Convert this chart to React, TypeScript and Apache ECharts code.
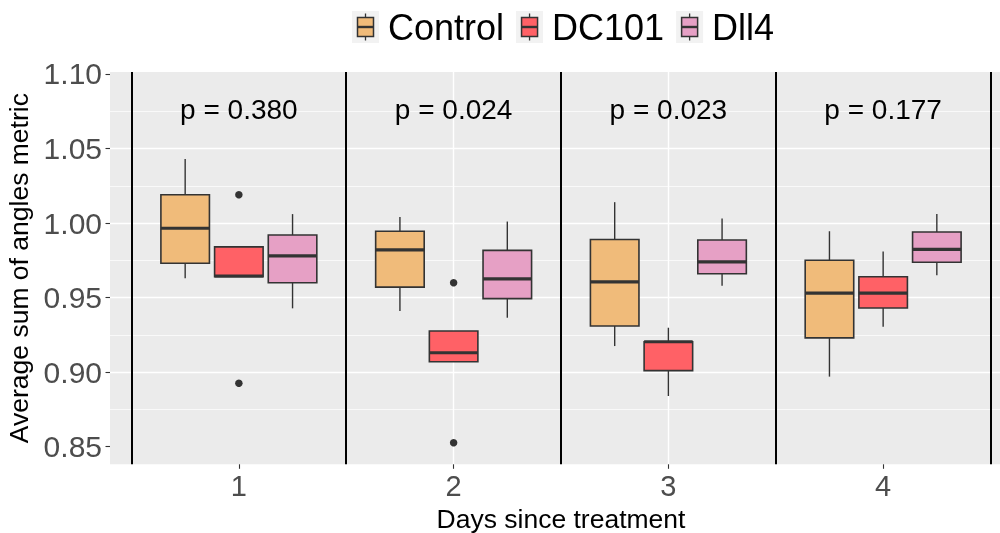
import React, { useEffect, useRef } from "react";
import * as echarts from "echarts";

// ---------- data ----------
const DAYS = [1, 2, 3, 4];
const GROUPS = ["Control", "DC101", "Dll4"];
const COLORS = ["#F0BB7A", "#FF6166", "#E6A0C5"];
// [lower whisker, Q1, median, Q3, upper whisker] per day
const CONTROL = [
  [0.963, 0.973, 0.9965, 1.019, 1.043],
  [0.941, 0.957, 0.982, 0.9945, 1.004],
  [0.9175, 0.931, 0.9605, 0.989, 1.014],
  [0.897, 0.923, 0.953, 0.975, 0.9945],
];
const DC101 = [
  [0.964, 0.964, 0.9645, 0.984, 0.984],
  [0.907, 0.907, 0.913, 0.9276, 0.9276],
  [0.884, 0.901, 0.9204, 0.9204, 0.9298],
  [0.9305, 0.943, 0.953, 0.964, 0.981],
];
const DLL4 = [
  [0.9428, 0.96, 0.978, 0.992, 1.006],
  [0.9365, 0.9493, 0.9625, 0.9817, 1.001],
  [0.958, 0.966, 0.974, 0.9886, 1.003],
  [0.965, 0.9737, 0.9824, 0.994, 1.006],
];
const BOX_STATS = [CONTROL, DC101, DLL4];
// outliers: [day, value]
const DC101_OUTLIERS = [
  [1, 1.019],
  [1, 0.8925],
  [2, 0.96],
  [2, 0.8527],
];
const P_VALUES = ["p = 0.380", "p = 0.024", "p = 0.023", "p = 0.177"];
const P_LABEL_Y = 1.076;
const SEPARATORS = [0.5, 1.5, 2.5, 3.5, 4.5];
const Y_TICKS = [0.85, 0.9, 0.95, 1.0, 1.05, 1.1];
const X_MIN = 0.4;
const X_MAX = 4.6;
const Y_MIN = 0.8382;
const Y_MAX = 1.1013;

// ---------- layout / style ----------
const DODGE = [-0.25, 0, 0.25];
const BOX_WIDTH = 0.226;
const FONT = "'Liberation Sans', Arial, Helvetica, sans-serif";
const INK = "#333333";

function legendIcon(color: string) {
  const svg =
    '<svg xmlns="http://www.w3.org/2000/svg" width="31" height="32">' +
    '<rect x="0" y="0" width="27" height="32" fill="#F2F2F2"/>' +
    '<line x1="13.5" y1="2.5" x2="13.5" y2="29.5" stroke="#333333" stroke-width="1.3"/>' +
    '<rect x="5.5" y="6.5" width="16" height="19" fill="' +
    color +
    '" stroke="#333333" stroke-width="1.5"/>' +
    '<line x1="5.5" y1="16" x2="21.5" y2="16" stroke="#333333" stroke-width="2.4"/>' +
    "</svg>";
  return "image://data:image/svg+xml;charset=utf-8," + encodeURIComponent(svg);
}

export default function App() {
  const ref = useRef<HTMLDivElement>(null);

  useEffect(() => {
    if (!ref.current) return;
    document.body.style.margin = "0";
    const chart = echarts.init(ref.current, null, { renderer: "svg" });

    const boxSeries = GROUPS.map((name, g) => ({
      name,
      type: "custom",
      z: 3,
      encode: { x: 0, y: [1, 2, 3, 4, 5] },
      data: DAYS.map((d, i) => [d + DODGE[g], ...BOX_STATS[g][i]]),
      renderItem: (params: any, api: any) => {
        const x = api.value(0);
        const lo = api.coord([x, api.value(1)]);
        const q1 = api.coord([x, api.value(2)]);
        const md = api.coord([x, api.value(3)]);
        const q3 = api.coord([x, api.value(4)]);
        const hi = api.coord([x, api.value(5)]);
        const half = api.size([BOX_WIDTH, 0])[0] / 2;
        const cx = lo[0];
        return {
          type: "group",
          children: [
            {
              type: "line",
              shape: { x1: cx, y1: hi[1], x2: cx, y2: q3[1] },
              style: { stroke: INK, lineWidth: 1.4 },
            },
            {
              type: "line",
              shape: { x1: cx, y1: q1[1], x2: cx, y2: lo[1] },
              style: { stroke: INK, lineWidth: 1.4 },
            },
            {
              type: "rect",
              shape: { x: cx - half, y: q3[1], width: half * 2, height: q1[1] - q3[1] },
              style: { fill: COLORS[g], stroke: INK, lineWidth: 1.6 },
            },
            {
              type: "line",
              shape: { x1: cx - half, y1: md[1], x2: cx + half, y2: md[1] },
              style: { stroke: INK, lineWidth: 3.2 },
            },
          ],
        };
      },
    }));

    const option: any = {
      animation: false,
      textStyle: { fontFamily: FONT },
      legend: {
        left: 352,
        top: 9,
        padding: 0,
        itemWidth: 31,
        itemHeight: 32,
        itemGap: 12,
        selectedMode: false,
        textStyle: { fontSize: 36, color: "#000", fontFamily: FONT },
        data: GROUPS.map((name, g) => ({ name, icon: legendIcon(COLORS[g]) })),
      },
      grid: {
        left: 110,
        top: 72,
        width: 902,
        height: 392.3,
        show: true,
        backgroundColor: "#EBEBEB",
        borderWidth: 0,
        containLabel: false,
        outerBoundsMode: "none",
      },
      xAxis: {
        type: "value",
        min: X_MIN,
        max: X_MAX,
        name: "Days since treatment",
        nameLocation: "middle",
        nameGap: 36,
        nameTextStyle: { fontSize: 26.5, color: "#000", fontFamily: FONT },
        axisLine: { show: false },
        axisTick: {
          show: true,
          customValues: DAYS,
          length: 4.5,
          lineStyle: { color: INK, width: 1.1 },
        },
        axisLabel: {
          customValues: DAYS,
          fontSize: 29,
          color: "#4D4D4D",
          margin: 7,
          fontFamily: FONT,
          formatter: (v: number) => (Math.abs(v - Math.round(v)) < 1e-6 ? String(Math.round(v)) : ""),
        },
        splitLine: {
          show: true,
          showMinLine: false,
          showMaxLine: false,
          lineStyle: { color: "#FFFFFF", width: 1.4 },
        },
      },
      yAxis: {
        type: "value",
        min: Y_MIN,
        max: Y_MAX,
        splitNumber: 5,
        name: "Average sum of angles metric",
        nameLocation: "middle",
        nameGap: 68,
        nameRotate: 90,
        nameTextStyle: { fontSize: 26.5, color: "#000", fontFamily: FONT },
        axisLine: { show: false },
        axisTick: {
          show: true,
          customValues: Y_TICKS,
          length: 4.5,
          lineStyle: { color: INK, width: 1.1 },
        },
        axisLabel: {
          customValues: Y_TICKS,
          fontSize: 30,
          color: "#4D4D4D",
          margin: 8,
          fontFamily: FONT,
          formatter: (v: number) => {
            const k = v / 0.05;
            return Math.abs(k - Math.round(k)) < 1e-4 ? v.toFixed(2) : "";
          },
        },
        splitLine: {
          show: true,
          showMinLine: false,
          showMaxLine: false,
          lineStyle: { color: "#FFFFFF", width: 1.4 },
        },
        minorTick: { show: false, splitNumber: 2 },
        minorSplitLine: { show: true, lineStyle: { color: "#FFFFFF", width: 0.7 } },
      },
      series: [
        ...boxSeries,
        {
          name: "outliers",
          type: "scatter",
          z: 4,
          symbol: "circle",
          symbolSize: 7.5,
          itemStyle: { color: INK, opacity: 1 },
          data: DC101_OUTLIERS.map(([d, v]) => [d + DODGE[1], v]),
          markLine: {
            silent: true,
            symbol: "none",
            z: 5,
            label: { show: false },
            lineStyle: { color: "#000000", width: 2, type: "solid", opacity: 1 },
            data: SEPARATORS.map((v) => ({ xAxis: v })),
          },
        },
        {
          name: "pvalues",
          type: "custom",
          z: 6,
          encode: { x: 0, y: 1 },
          data: DAYS.map((d, i) => [d, P_LABEL_Y, i]),
          renderItem: (params: any, api: any) => {
            const p = api.coord([api.value(0), api.value(1)]);
            return {
              type: "text",
              x: p[0],
              y: p[1],
              style: {
                text: P_VALUES[api.value(2)],
                fontSize: 28,
                fontFamily: FONT,
                fill: "#000",
                align: "center",
                verticalAlign: "middle",
              },
            };
          },
        },
      ],
    };

    chart.setOption(option);
    return () => chart.dispose();
  }, []);

  return (
    <div
      ref={ref}
      style={{ position: "fixed", left: 0, top: 0, width: 1000, height: 533 }}
    />
  );
}
